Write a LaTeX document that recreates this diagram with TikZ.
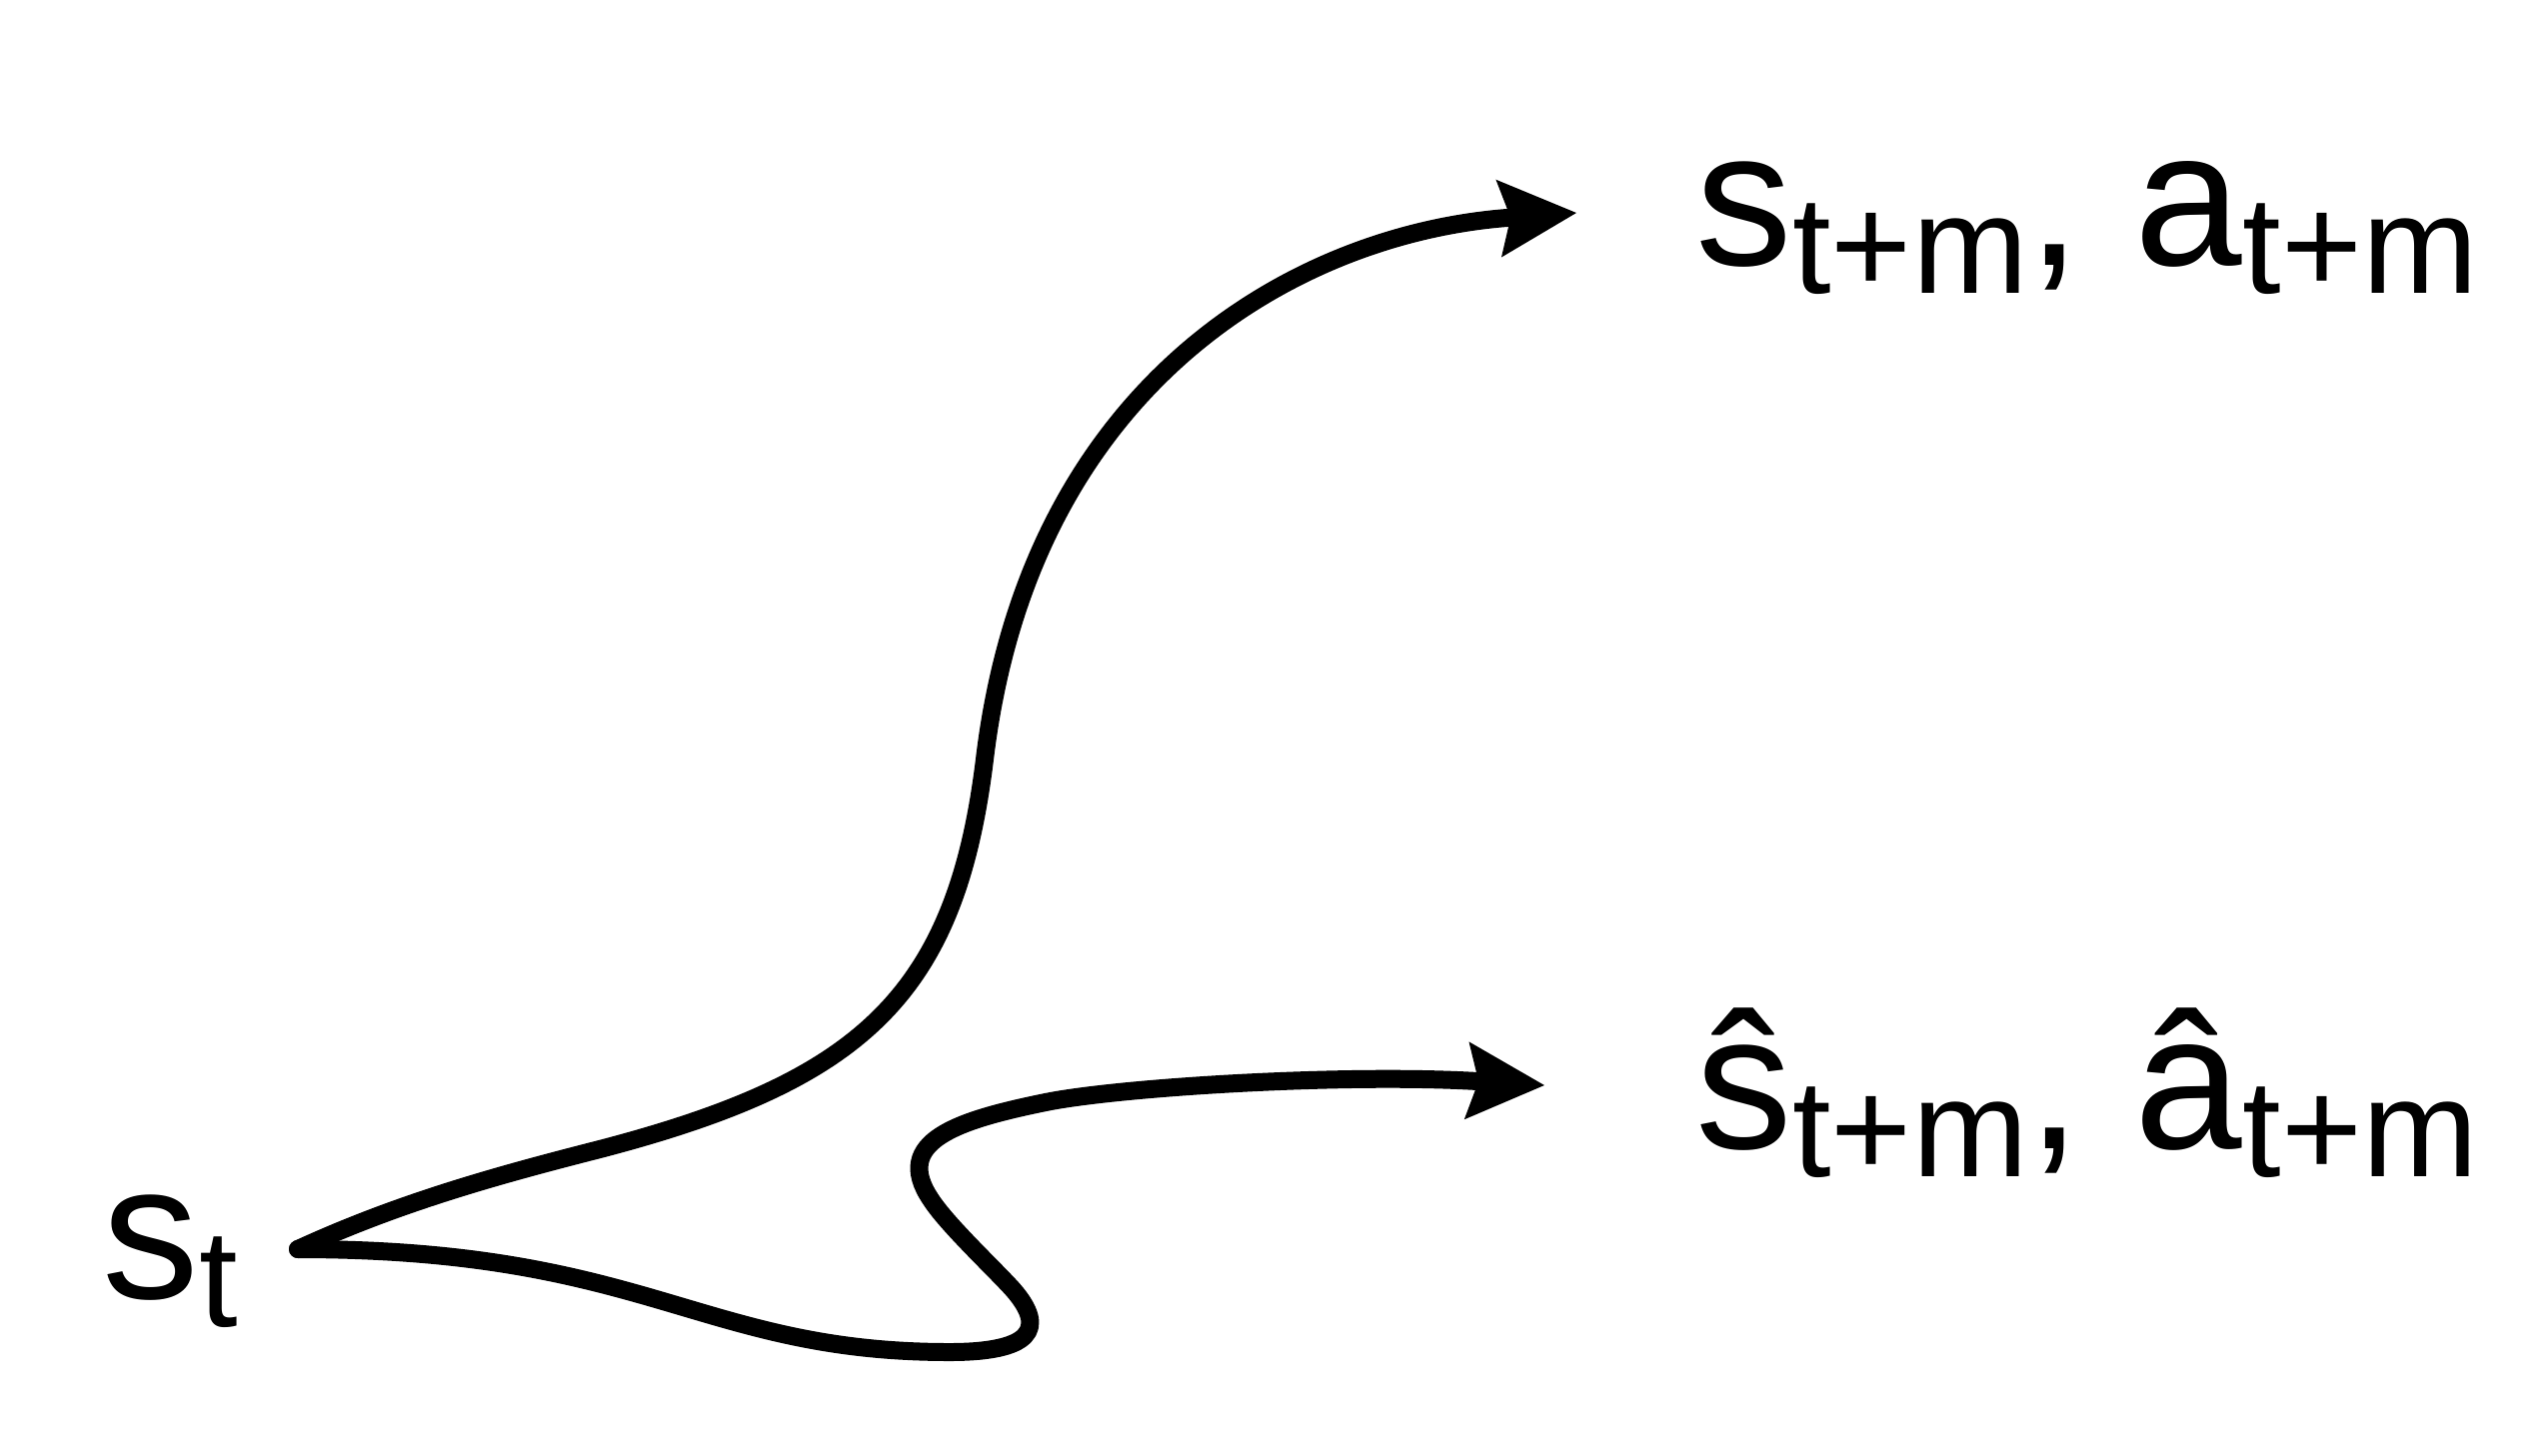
\documentclass[tikz,border=0pt]{standalone}
\usepackage{fontspec}
\setmainfont{Liberation Sans}
\usetikzlibrary{arrows.meta}
\newcommand{\lowsub}[1]{\raisebox{-2.8mm}{\fontsize{39.5}{41}\selectfont #1}}

\begin{document}
\begin{tikzpicture}[x=0.1mm, y=-0.1mm,
  trajectory/.style={line width=1.8mm, line cap=round, line join=round,
    -{Stealth[length=7.8mm, width=7.8mm, inset=1.2mm, line width=0pt]}},
  statelabel/.style={anchor=base west, inner sep=0pt, font=\fontsize{55}{60}\selectfont}]
\useasboundingbox (0,0) rectangle (2538,1456);

\node[statelabel] (st) at (102,1299) {s\lowsub{t}};
\node[statelabel] (real) at (1696,265) {s\lowsub{t+m}, a\lowsub{t+m}};
\node[statelabel] (pred) at (1696,1149) {ŝ\lowsub{t+m}, â\lowsub{t+m}};

\coordinate (start) at (298,1250);
\coordinate (realtip) at (1577,213);
\coordinate (predtip) at (1545,1086);

% true rollout
\draw[trajectory] (start) .. controls (398,1204) and (494,1177) .. (600,1150)
  .. controls (860,1082) and (956,998) .. (985,760)
  .. controls (1030,383) and (1298,233) .. (realtip);
% model rollout
\draw[trajectory] (start) .. controls (648,1250) and (700,1353) .. (950,1353)
  .. controls (1030,1353) and (1049,1331) .. (1013,1290)
  .. controls (993,1268) and (947,1225) .. (931,1200)
  .. controls (892,1142) and (958,1121) .. (1046,1103)
  .. controls (1120,1088) and (1345,1074) .. (predtip);
\end{tikzpicture}
\end{document}
